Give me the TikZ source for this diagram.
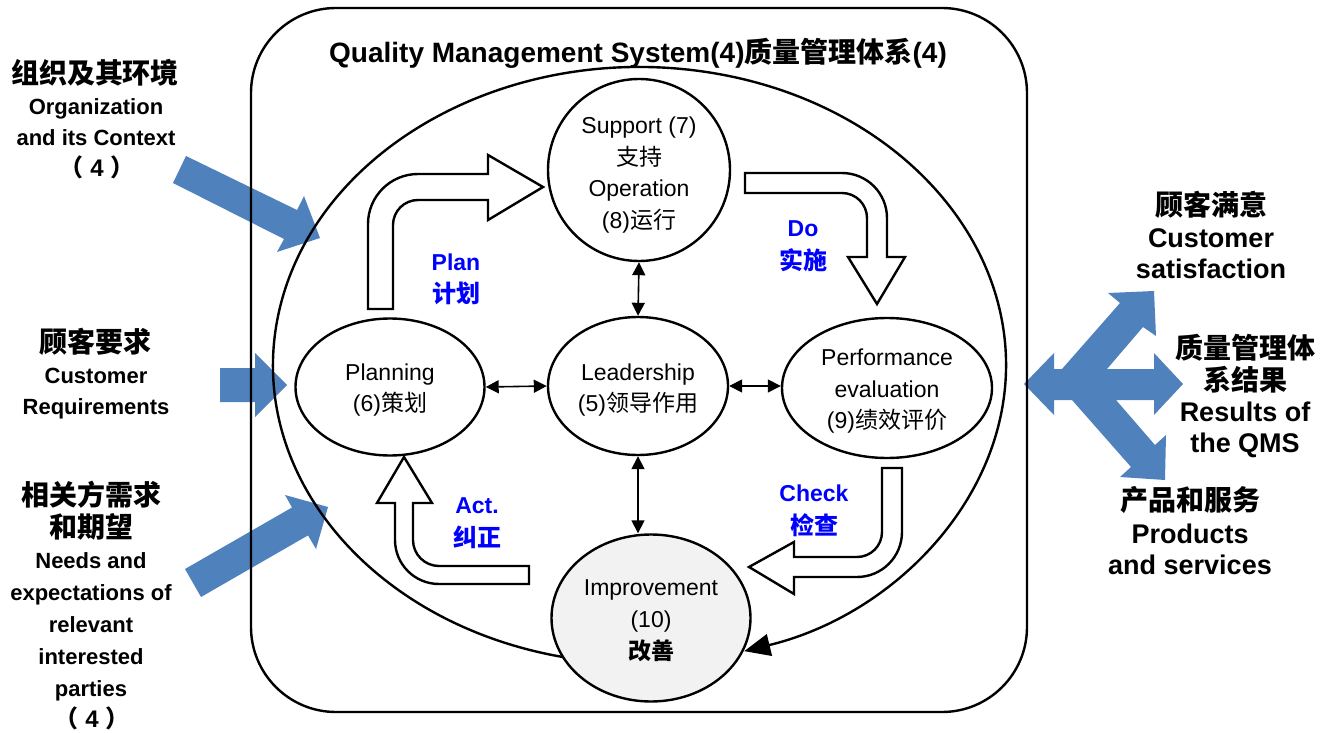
\documentclass[tikz,border=0pt]{standalone}
\usepackage{fontspec}
\setmainfont{Liberation Sans}
\newfontfamily\cjk{Noto Sans CJK SC}
\usetikzlibrary{shapes.geometric,arrows.meta}
\definecolor{qblue}{RGB}{79,129,189}
\definecolor{pdca}{RGB}{0,0,255}
\definecolor{impfill}{RGB}{242,242,242}
\newcommand{\fsz}[1]{\fontsize{#1}{#1}\selectfont}
\begin{document}
\begin{tikzpicture}[x=1pt,y=-1pt,
  ln/.style={inner sep=0pt, text height=#1, text depth=0pt, anchor=center},
  lft/.style={ln=17pt, font=\bfseries\fsz{22}},
  lftc/.style={ln=21.5pt, font=\cjk\bfseries\fsz{28}},
  rgt/.style={ln=20.5pt, font=\bfseries\fsz{27}},
  rgtc/.style={ln=21.5pt, font=\cjk\bfseries\fsz{28}},
  pd/.style={ln=17.5pt, text=pdca, font=\bfseries\fsz{23}},
  pdc/.style={ln=18.5pt, text=pdca, font=\cjk\bfseries\fsz{24}},
  proc/.style={ellipse, draw, line width=2.4pt, inner sep=0pt, align=center,
    font=\fontsize{23}{31.7}\selectfont, fill=white},
  blk/.style={draw, line width=2.4pt, fill=white, line join=miter},
  bluearr/.style={fill=qblue, draw=none},
  dbl/.style={line width=1.6pt, {Triangle[length=13pt,width=13pt]}-{Triangle[length=13pt,width=13pt]}},
]
\useasboundingbox (0,0) rectangle (1328,733);

% blue input / output arrows (under the lines)
\fill[bluearr] (186,156) -- (297,210) -- (304,196) -- (320,238) -- (277,252) -- (284,239) -- (173,183) -- cycle;
\fill[bluearr] (220,368) -- (255,368) -- (255,353) -- (287,385) -- (255,417) -- (255,402) -- (220,402) -- cycle;
\fill[bluearr] (185,569) -- (292,507.5) -- (285,495) -- (328,507) -- (316,549) -- (308,535.4) -- (201,597) -- cycle;
\fill[bluearr] (1024,384) -- (1054,353) -- (1054,369) -- (1062,369) -- (1120,303) -- (1108,293)
  -- (1154,291) -- (1156,336) -- (1143,327) -- (1107,369) -- (1154,369) -- (1154,353)
  -- (1183,384) -- (1154,415) -- (1154,400) -- (1116,400) -- (1155,445) -- (1166,435)
  -- (1165,480) -- (1120,477) -- (1131,467) -- (1072,400) -- (1054,400) -- (1054,415) -- cycle;

% outer QMS frame
\draw[line width=2.4pt, rounded corners=85pt] (251,8) rectangle (1027,712);

% big cycle ellipse with arrow
\coordinate (ec) at (639.5,365.3);
\draw[line width=2.4pt, -{Triangle[length=26pt,width=22pt]}] (ec) ++(100:366.5 and 298.3)
  arc[start angle=100, end angle=433.4, x radius=366.5, y radius=298.3];

% process nodes
\node[proc, minimum width=182pt, minimum height=182pt] (sup) at (639,170)
  {\rule{0pt}{27pt}Support (7)\\{\cjk 支持}\\Operation\\(8){\cjk 运行}};
\node[proc, minimum width=180pt, minimum height=138pt] (lead) at (638,386)
  {\rule{0pt}{25pt}Leadership\\(5){\cjk 领导作用}};
\node[proc, minimum width=189pt, minimum height=137pt] (plan) at (390,387)
  {\rule{0pt}{23pt}Planning\\(6){\cjk 策划}};
\node[proc, minimum width=210pt, minimum height=140pt] (perf) at (887,388)
  {\rule{0pt}{23pt}Performance\\evaluation\\(9){\cjk 绩效评价}};
\node[proc, fill=impfill, minimum width=199pt, minimum height=167pt] (impr) at (651,618)
  {\rule{0pt}{21pt}Improvement\\(10)\\{\cjk\bfseries 改善}};

% PDCA block arrows
\draw[blk] (368,309) -- (368,224) arc[start angle=180,end angle=270,radius=50] -- (488,174)
  -- (488,155) -- (543,187) -- (488,220) -- (488,200) -- (418,200)
  arc[start angle=270,end angle=180,radius=25] -- (393,309) -- cycle;
\draw[blk] (745,173) -- (842,173) arc[start angle=270,end angle=360,radius=45] -- (887,257)
  -- (905,257) -- (877,304) -- (848,257) -- (867,257) -- (867,218)
  arc[start angle=0,end angle=-90,radius=25] -- (745,193) -- cycle;
\draw[blk] (882,468) -- (882,532) arc[start angle=0,end angle=90,radius=25] -- (794,557)
  -- (794,542) -- (749,567) -- (794,594) -- (794,577) -- (857,577)
  arc[start angle=90,end angle=0,radius=45] -- (902,468) -- cycle;
\draw[blk] (529,566) -- (439,566) arc[start angle=90,end angle=180,radius=26] -- (413,503)
  -- (432,503) -- (404,457) -- (377,503) -- (395,503) -- (395,540)
  arc[start angle=180,end angle=90,radius=44] -- (529,584) -- cycle;

% double arrows
\draw[dbl] (plan.east) -- (lead.west);
\draw[dbl] (lead.east) -- (perf.west |- lead.east);
\draw[dbl] (sup.south) -- (lead.north);
\draw[dbl] (lead.south) -- (lead.south |- impr.north);

% PDCA labels
\node[pd] (plan1) at (456,262) {Plan};
\node[pdc] (plan2) at (456,293) {计划};
\node[pd] (do1) at (803,228) {Do};
\node[pdc] (do2) at (803,260) {实施};
\node[pd] (ck1) at (814,493) {Check};
\node[pdc] (ck2) at (814,525) {检查};
\node[pd] (ac1) at (477,505) {Act.};
\node[pdc] (ac2) at (477,537) {纠正};

% title
\node[ln=21pt, font=\bfseries\fsz{28}] (title) at (638,52) {Quality Management System(4){\cjk 质量管理体系}(4)};

% left texts
\node[lftc] (a1) at (95,73) {组织及其环境};
\node[lft] (a2) at (96,106) {Organization};
\node[lft] (a3) at (96,137) {and its Context};
\node[lft, ln=18.5pt, font=\bfseries\fsz{24}] (a4) at (97,167) {{\cjk （} 4 {\cjk ）}};
\node[lftc] (b1) at (95,342) {顾客要求};
\node[lft] (b2) at (96,375) {Customer};
\node[lft] (b3) at (96,406) {Requirements};
\node[lftc] (c1) at (91,495) {相关方需求};
\node[lftc] (c2) at (91,527) {和期望};
\node[lft] (c3) at (91,560) {Needs and};
\node[lft] (c4) at (91,592) {expectations of};
\node[lft] (c5) at (91,624) {relevant};
\node[lft] (c6) at (91,656) {interested};
\node[lft] (c7) at (91,688) {parties};
\node[lft, ln=18.5pt, font=\bfseries\fsz{24}] (c8) at (92,718) {{\cjk （} 4 {\cjk ）}};

% right texts
\node[rgtc] (d1) at (1211,205) {顾客满意};
\node[rgt] (d2) at (1211,237) {Customer};
\node[rgt] (d3) at (1211,268) {satisfaction};
\node[rgtc] (e1) at (1245,348) {质量管理体};
\node[rgtc] (e2) at (1245,380) {系结果};
\node[rgt] (e3) at (1245,411) {Results of};
\node[rgt] (e4) at (1245,442) {the QMS};
\node[rgtc] (f1) at (1190,500) {产品和服务};
\node[rgt] (f2) at (1190,533) {Products};
\node[rgt] (f3) at (1190,564) {and services};
\end{tikzpicture}
\end{document}
